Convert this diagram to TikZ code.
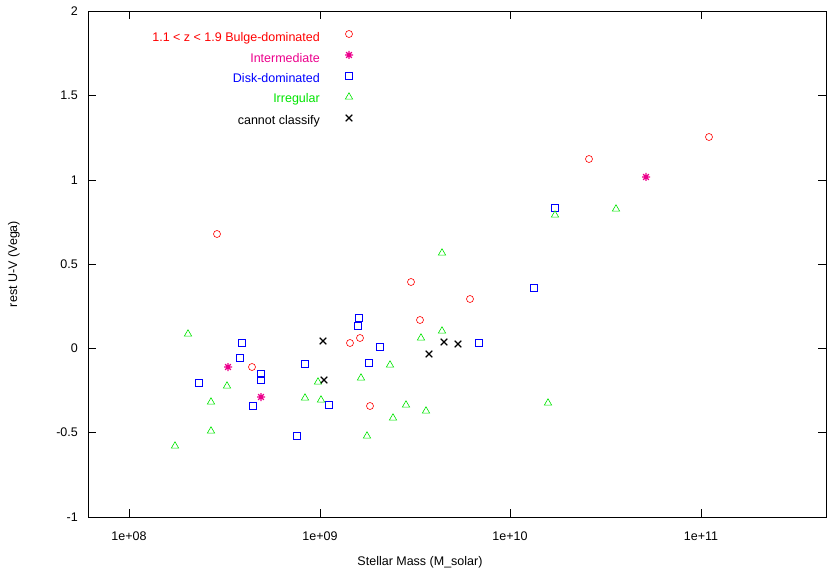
\documentclass[tikz,border=0pt]{standalone}
\usepackage{fontspec}
\setmainfont{Liberation Sans}
\usetikzlibrary{shapes.geometric}
\begin{document}
\begin{tikzpicture}[x=1pt,y=-1pt,
  lab/.style={font=\fontsize{12.5}{14}\selectfont,inner sep=0pt},
  bul/.style={draw=red,circle,inner sep=0pt,minimum size=7pt,line width=0.6pt},
  dsk/.style={draw=blue,rectangle,inner sep=0pt,minimum size=7pt,line width=0.6pt},
  irr/.style={draw=green!90!black,regular polygon,regular polygon sides=3,inner sep=0pt,minimum size=8.5pt,line width=0.6pt},
  tk/.style={line width=0.6pt}]
\useasboundingbox (0,0) rectangle (830,572);
\draw[line width=0.6pt] (88,11) rectangle (826,517);
% y ticks
\foreach \v/\y in {2/11,1.5/95,1/180,0.5/264,0/348,-0.5/432,-1/517}{
  \draw[tk] (88,\y) -- (96,\y); \draw[tk] (826,\y) -- (818,\y);
  \node[lab,anchor=east] (yl\y) at (78,\y) {\v};}
\foreach \x/\t in {129/1e+08,320/1e+09,510/1e+10,701/1e+11}{
  \draw[tk] (\x,517) -- (\x,509); \draw[tk] (\x,11) -- (\x,19);
  \node[lab] (xl\x) at (\x,536) {\t};}
\node[lab] (xt) at (420,562) {Stellar Mass (M\_solar)};
\node[lab,rotate=90] (yt) at (14,264) {rest U-V (Vega)};
% legend
\node[lab,anchor=east,text=red] (l1) at (320,38) {1.1 < z < 1.9 Bulge-dominated};
\node[lab,anchor=east,text=magenta] (l2) at (320,58) {Intermediate};
\node[lab,anchor=east,text=blue] (l3) at (320,78) {Disk-dominated};
\node[lab,anchor=east,text=green!90!black] (l4) at (320,99) {Irregular};
\node[lab,anchor=east] (l5) at (320,121) {cannot classify};
\node[bul] (s1) at (349,34) {};
\node[irr] (s4) at (349,97) {};
\foreach \p [count=\i] in {(217,234),(252,367),(350,343),(360,338),(370,406),(411,282),(420,320),(470,299),(589,159),(709,137)}
  \node[bul] (b\i) at \p {};
\foreach \p [count=\i] in {(199,383),(242,343),(240,358),(261,374),(261,380),(253,406),(305,364),(297,436),(329,405),(359,318),(358,326),(369,363),(380,347),(479,343),(534,288),(555,208),(349,76)}
  \node[dsk] (d\i) at \p {};
\foreach \p [count=\i] in {(175,446),(188,334),(211,402),(211,431),(227,386),(305,398),(318,382),(321,400),(361,378),(367,436),(390,365),(393,418),(406,405),(421,338),(426,411),(442,253),(442,331),(548,403),(555,215),(616,209)}
  \node[irr] (g\i) at \p {};
\foreach \p in {(228,367),(261,397),(646,177),(349,55)}
  \draw[magenta,line width=1.3pt] \p ++(4,0) -- ++(-8,0) \p ++(0,4) -- ++(0,-8)
     \p ++(2.8,2.8) -- ++(-5.6,-5.6) \p ++(2.8,-2.8) -- ++(-5.6,5.6);
\foreach \p in {(323,341),(324,380),(429,354),(444,342),(458,344),(349,118)}
  \draw[line width=1.2pt] \p ++(-3.3,-3.3) -- ++(6.6,6.6) \p ++(-3.3,3.3) -- ++(6.6,-6.6);
\end{tikzpicture}
\end{document}
